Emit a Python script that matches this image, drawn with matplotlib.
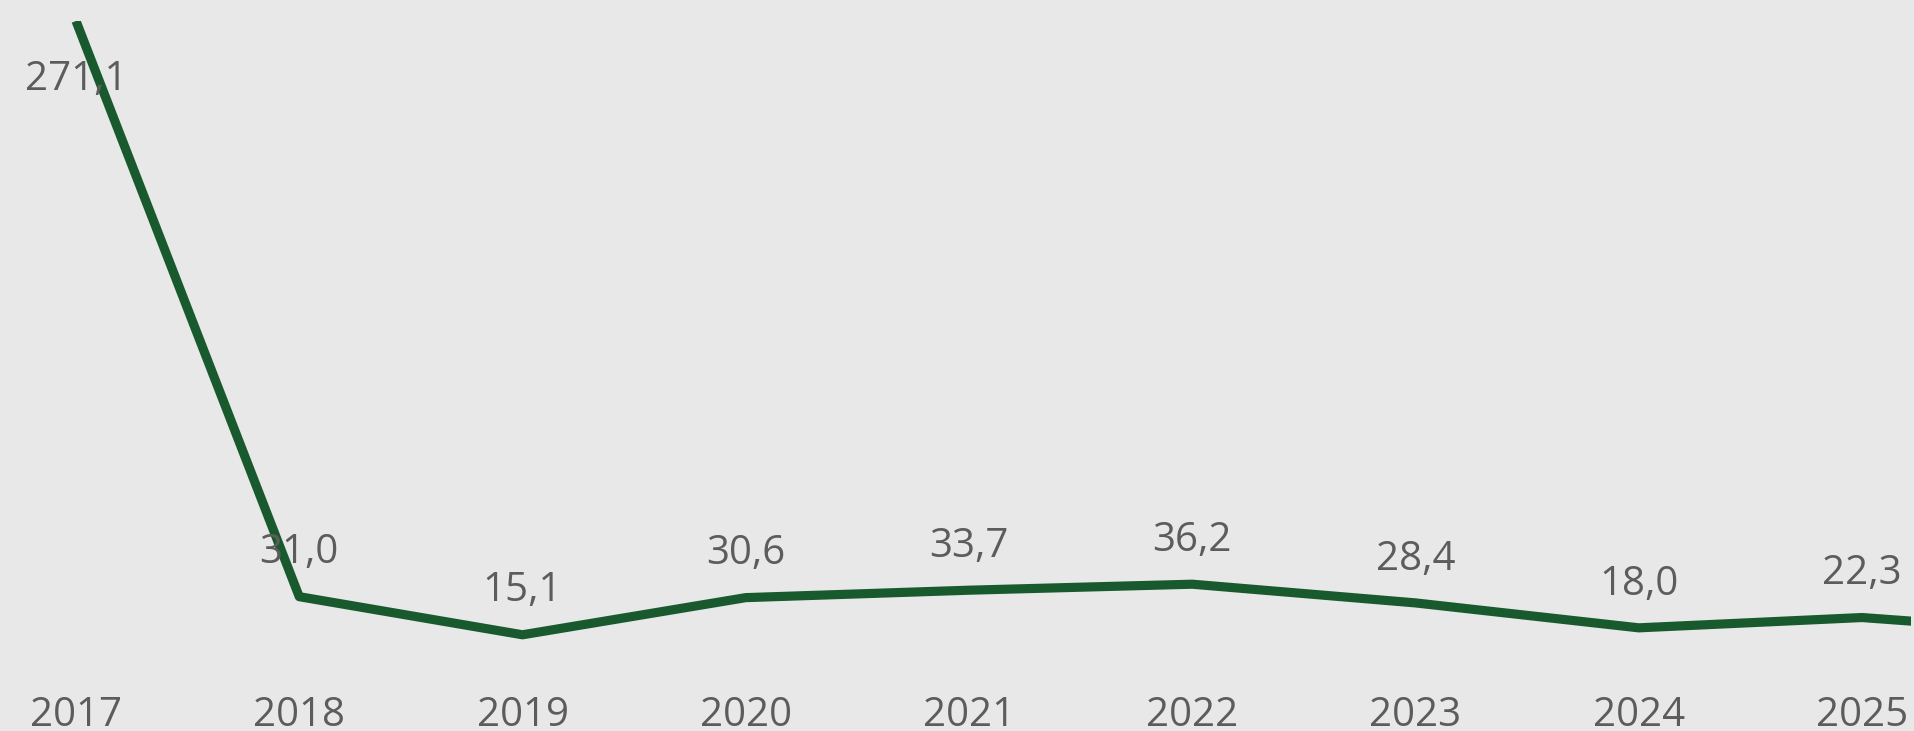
import matplotlib
matplotlib.use("Agg")
import matplotlib.pyplot as plt

years = [2017, 2018, 2019, 2020, 2021, 2022, 2023, 2024, 2025, 2026]
values = [271.1, 31.0, 15.1, 30.6, 33.7, 36.2, 28.4, 18.0, 22.3, 15.5]
labeled_years = [2017, 2018, 2019, 2020, 2021, 2022, 2023, 2024, 2025]
tick_labels = [str(y) for y in labeled_years]

BG = "#e8e8e8"
LINE = "#185a2e"
TXT = "#5c5c5c"
FONT = ["Open Sans", "DejaVu Sans"]
FS = 29

W, H = 1915, 731
fig = plt.figure(figsize=(W / 100, H / 100), dpi=100, facecolor=BG)
ax = fig.add_axes([0, (H - 671) / H, 1911 / W, (671 - 21) / H])
ax.set_facecolor(BG)

ax.plot(years, values, color=LINE, lw=6.6, solid_capstyle="butt", clip_on=True)

ax.set_ylim(0, max(values[:9]))
x0 = 2017 - 76 / 223.25
x1 = 2017 + (1911 - 76) / 223.25
ax.set_xlim(x0, x1)

for i, (yr, v) in enumerate(zip(years, values)):
    if yr not in labeled_years:
        continue
    txt = f"{v:.1f}".replace(".", ",")
    if i == 0:
        off = -50
    else:
        off = 24
    ax.annotate(txt, (yr, v), xytext=(0, off), textcoords="offset points",
                ha="center", va="baseline", fontsize=FS, color=TXT,
                family=FONT, annotation_clip=False)

ax.set_xticks(labeled_years)
ax.set_xticklabels(tick_labels, fontsize=FS, color=TXT, family=FONT)
ax.tick_params(axis="x", length=0, pad=18)
ax.set_yticks([])
for s in ax.spines.values():
    s.set_visible(False)

fig.savefig("out.png", dpi=100, facecolor=BG)
